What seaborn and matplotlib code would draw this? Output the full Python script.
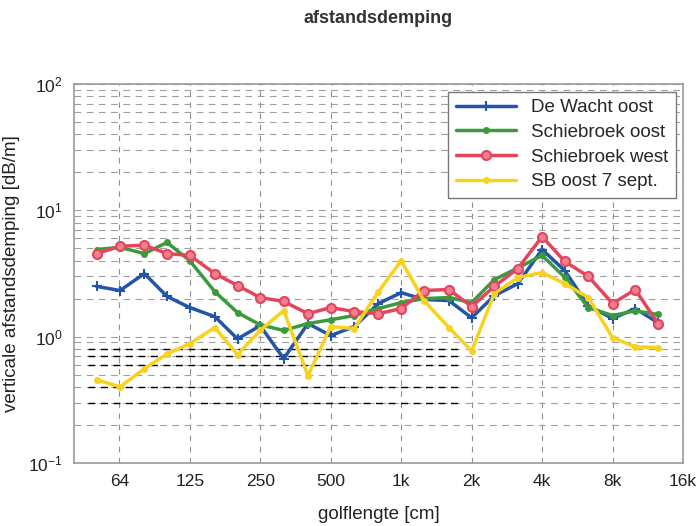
import numpy as np
import pandas as pd
import matplotlib
matplotlib.use('Agg')
import matplotlib.pyplot as plt
import seaborn as sns

# third-octave wavelengths [cm]
golflengte = [50, 63, 80, 100, 125, 160, 200, 250, 315, 400, 500, 630, 800,
              1000, 1250, 1600, 2000, 2500, 3150, 4000, 5000, 6300, 8000, 10000, 12500]

de_wacht_oost = [2.5, 2.32, 3.16, 2.08, 1.70, 1.44, 0.96, 1.22, 0.67, 1.27, 1.02, 1.2, 1.83,
                 2.23, 1.97, 1.93, 1.41, 2.11, 2.63, 4.9, 3.33, 1.76, 1.39, 1.67, 1.29]
schiebroek_oost = [4.9, 5.1, 4.55, 5.57, 4.0, 2.27, 1.55, 1.24, 1.12, 1.27, 1.36, 1.47, 1.67,
                   1.86, 2.0, 2.04, 1.86, 2.83, 3.5, 4.4, 2.95, 1.7, 1.47, 1.6, 1.5]
schiebroek_west = [4.55, 5.2, 5.3, 4.55, 4.4, 3.16, 2.54, 2.04, 1.9, 1.52, 1.7, 1.58, 1.52,
                   1.67, 2.32, 2.36, 1.73, 2.5, 3.46, 6.2, 3.94, 3.0, 1.83, 2.36, 1.27]
sb_oost_7sept = [0.455, 0.40, 0.557, 0.73, 0.88, 1.18, 0.72, 1.12, 1.61, 0.49, 1.2, 1.16, 2.27,
                 4.0, 1.93, 1.18, 0.77, 2.19, 2.94, 3.22, 2.63, 2.04, 0.98, 0.83, 0.82]

series_names = ['De Wacht oost', 'Schiebroek oost', 'Schiebroek west', 'SB oost 7 sept.']
series_values = [de_wacht_oost, schiebroek_oost, schiebroek_west, sb_oost_7sept]

x_ticks = [62.5, 125, 250, 500, 1000, 2000, 4000, 8000, 16000]
x_ticklabels = ['64', '125', '250', '500', '1k', '2k', '4k', '8k', '16k']

sns.set_style('white')
plt.rcParams['font.family'] = ['Liberation Sans', 'DejaVu Sans']

stijl = {
    'De Wacht oost': dict(color='#2356a8', marker='+', markersize=7, mew=1.5),
    'Schiebroek oost': dict(color='#3c9a3c', marker='o', markersize=4),
    'Schiebroek west': dict(color='#e2455c', marker='o', markersize=6.5,
                            markerfacecolor='#f08090', mew=1.5),
    'SB oost 7 sept.': dict(color='#f7d21e', marker='o', markersize=4),
}

fig = plt.figure(figsize=(6.97, 5.26), dpi=100)
ax = fig.add_axes([0.106, 0.12, 0.874, 0.72])

# scan artefact: darker dashed lines in lower left
for yv in [0.3, 0.4, 0.6, 0.7, 0.8]:
    ax.plot([46, 1800], [yv, yv], color='black', lw=1.0, ls=(0, (5, 4)), zorder=1)

for naam, waarden in zip(series_names, series_values):
    df = pd.DataFrame({'golflengte': golflengte, 'demping': waarden})
    s = stijl[naam]
    sns.lineplot(data=df, x='golflengte', y='demping', ax=ax, label=naam,
                 color=s['color'], marker=s['marker'], markersize=s['markersize'],
                 markeredgecolor=s['color'],
                 markerfacecolor=s.get('markerfacecolor', s['color']),
                 markeredgewidth=s.get('mew', 1), linewidth=2.5, zorder=3)

ax.set_xscale('log', base=2)
ax.set_yscale('log')
ax.set_xlim(40, 16000)
ax.set_ylim(0.1, 100)
ax.set_xticks(x_ticks)
ax.set_xticklabels(x_ticklabels)
ax.xaxis.set_minor_locator(matplotlib.ticker.NullLocator())
ax.tick_params(axis='both', labelsize=12.5, length=0, pad=8, colors='#222222')

ax.grid(True, which='major', axis='x', color='#909090', ls=(0, (5, 5)), lw=0.8)
ax.grid(True, which='both', axis='y', color='#a0a0a0', ls=(0, (6, 5)), lw=0.8)

for sp in ax.spines.values():
    sp.set_color('#999999')
    sp.set_linewidth(1.2)

ax.set_title('afstandsdemping', fontsize=13, fontweight='bold', pad=44, color='#333333')
ax.set_xlabel('golflengte [cm]', fontsize=13.5, labelpad=12, color='#222222')
ax.set_ylabel('verticale afstandsdemping [dB/m]', fontsize=13.5, labelpad=6, color='#222222')

leg = ax.legend(loc='upper right', fontsize=13.5, frameon=True, fancybox=False,
                edgecolor='#777777', framealpha=1, handlelength=3.2,
                borderaxespad=0.4, labelspacing=0.4)
leg.get_frame().set_linewidth(1.0)

plt.savefig('out.png', dpi=100)
plt.close()
